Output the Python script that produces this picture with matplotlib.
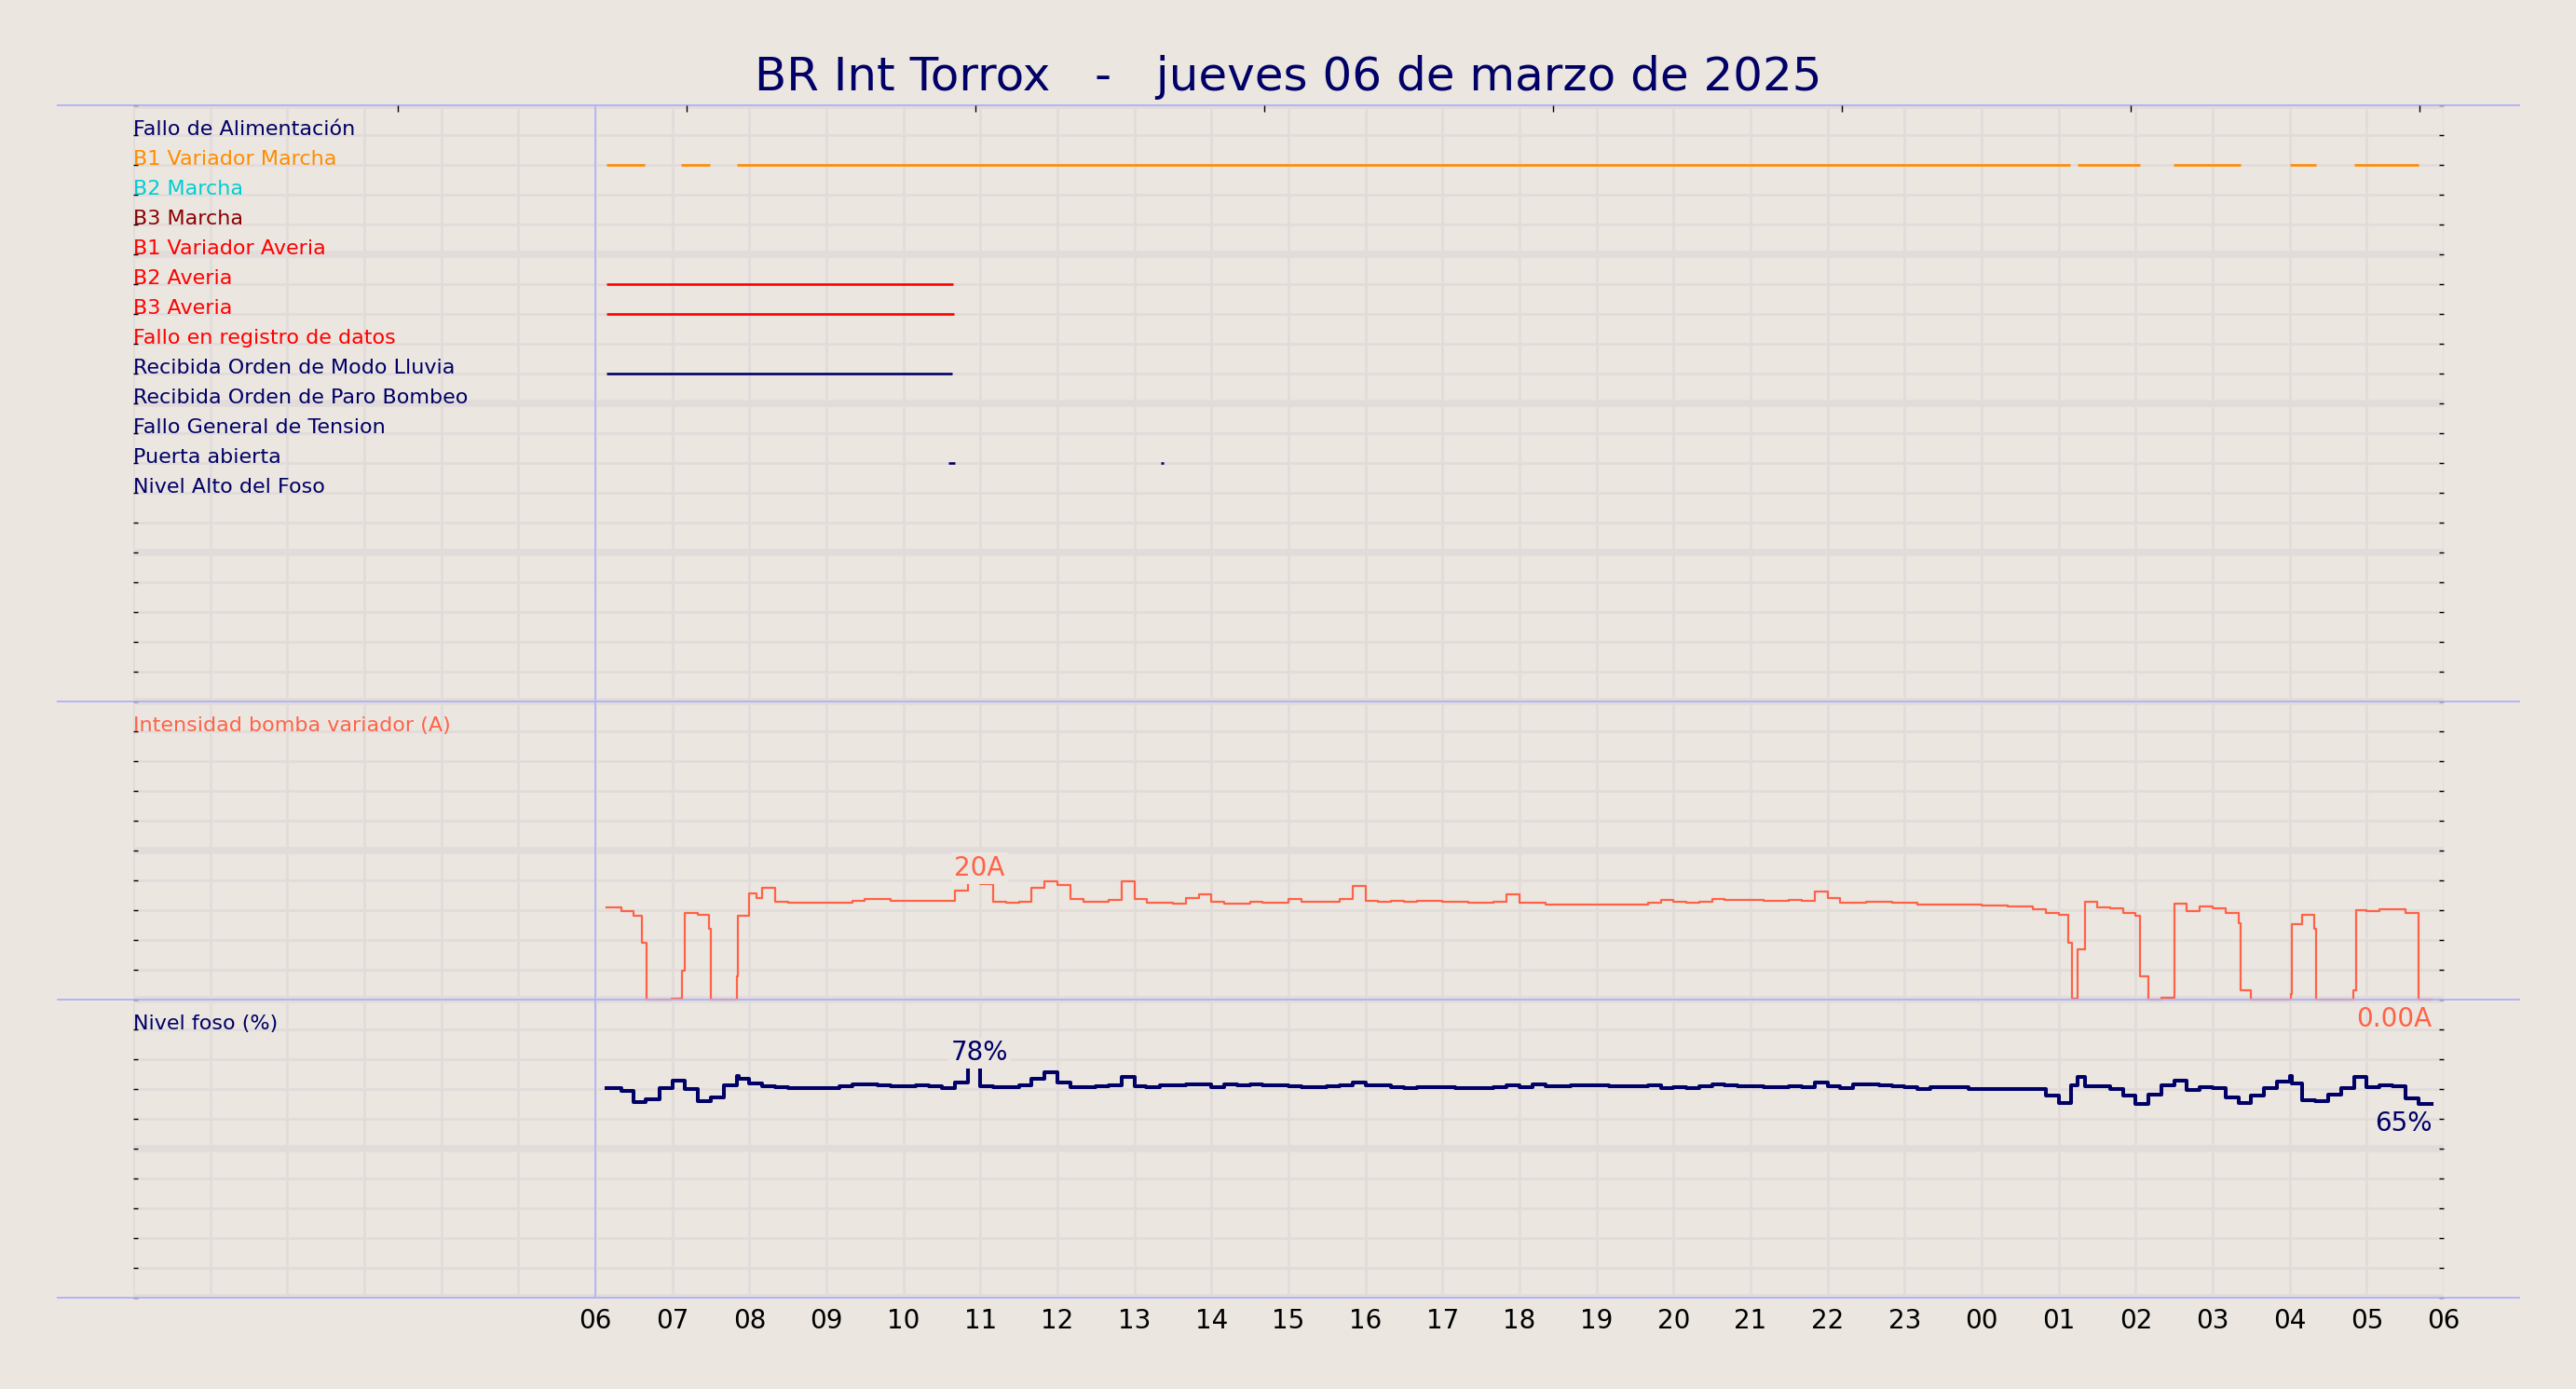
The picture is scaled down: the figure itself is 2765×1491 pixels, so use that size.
import matplotlib
matplotlib.use('Agg')
import matplotlib.pyplot as plt
from matplotlib.ticker import MultipleLocator, FixedLocator, NullFormatter
import numpy as np

# time axis: hours since 00:00 of 06/03/2025
title = 'BR Int Torrox   -   jueves 06 de marzo de 2025'
hour_ticks = list(range(6, 31))

# digital signals (name, colour, on-intervals)
signal_names = ['Fallo de Alimentación', 'B1 Variador Marcha', 'B2 Marcha', 'B3 Marcha',
                'B1 Variador Averia', 'B2 Averia', 'B3 Averia', 'Fallo en registro de datos',
                'Recibida Orden de Modo Lluvia', 'Recibida Orden de Paro Bombeo',
                'Fallo General de Tension', 'Puerta abierta', 'Nivel Alto del Foso']
signal_colors = ['#000066', 'darkorange', 'darkturquoise', '#8b0000',
                 'red', 'red', 'red', 'red',
                 '#000066', '#000066', '#000066', '#000066', '#000066']
fallo_alimentacion = []
b1_variador_marcha = [(6.145, 6.64), (7.11, 7.49), (7.84, 25.15), (25.24, 26.06),
                      (26.49, 27.36), (28.01, 28.34), (28.84, 29.67)]
b2_marcha = []
b3_marcha = []
b1_variador_averia = []
b2_averia = [(6.145, 10.65)]
b3_averia = [(6.145, 10.66)]
fallo_registro = []
modo_lluvia = [(6.145, 10.63)]
paro_bombeo = []
fallo_tension = []
puerta_abierta = [(10.58, 10.67), (13.345, 13.38)]
nivel_alto = []
signal_on = [fallo_alimentacion, b1_variador_marcha, b2_marcha, b3_marcha,
             b1_variador_averia, b2_averia, b3_averia, fallo_registro,
             modo_lluvia, paro_bombeo, fallo_tension, puerta_abierta, nivel_alto]

# Intensidad bomba variador (A)
current_t = [6.145, 6.333, 6.5, 6.609, 6.665, 6.988, 7.121, 7.165, 7.333, 7.472, 7.504,
             7.839, 7.855, 8.0, 8.089, 8.167, 8.333, 8.5, 9.0, 9.333, 9.5, 9.833,
             10.667, 10.843, 10.992, 11.167, 11.333, 11.5, 11.667, 11.833, 12.0, 12.167,
             12.333, 12.667, 12.833, 13.0, 13.167, 13.5, 13.667, 13.833, 14.0, 14.167,
             14.5, 14.667, 15.0, 15.167, 15.667, 15.833, 16.0, 16.167, 16.333, 16.5,
             16.667, 17.0, 17.333, 17.667, 17.833, 18.0, 18.333, 19.667, 19.833, 20.0,
             20.167, 20.333, 20.5, 20.667, 21.167, 21.5, 21.667, 21.833, 22.0, 22.167,
             22.5, 22.833, 23.167, 24.0, 24.333, 24.667, 24.833, 25.0, 25.121, 25.169,
             25.25, 25.339, 25.5, 25.667, 25.833, 26.0, 26.056, 26.167, 26.333, 26.5,
             26.667, 26.833, 27.0, 27.167, 27.333, 27.359, 27.5, 28.012, 28.032, 28.167,
             28.315, 28.343, 28.831, 28.859, 29.0, 29.167, 29.5, 29.673, 29.847]
current_a = [15.5, 14.9, 14.0, 9.6, 0.0, 0.2, 4.8, 14.5, 14.2, 11.9, 0.0,
             3.9, 14.0, 17.8, 17.1, 18.7, 16.4, 16.2, 16.3, 16.6, 16.8, 16.6,
             18.3, 20.0, 19.3, 16.4, 16.2, 16.4, 18.8, 19.9, 19.2, 16.8,
             16.4, 16.7, 19.9, 16.8, 16.25, 16.1, 17.0, 17.6, 16.4, 16.1,
             16.35, 16.25, 16.8, 16.4, 16.8, 19.1, 16.6, 16.35, 16.6, 16.35,
             16.5, 16.35, 16.2, 16.4, 17.7, 16.25, 16.0, 16.25, 16.7, 16.35,
             16.2, 16.4, 16.8, 16.7, 16.5, 16.7, 16.5, 18.2, 17.1, 16.25,
             16.4, 16.25, 15.9, 15.8, 15.6, 15.2, 14.6, 14.2, 9.5, 0.2,
             8.4, 16.35, 15.5, 15.3, 14.5, 14.0, 3.85, 0.0, 0.3, 16.1,
             14.8, 15.6, 15.3, 14.5, 12.8, 1.6, 0.0, 0.9, 12.7, 14.2,
             11.9, 0.0, 1.6, 15.0, 14.8, 15.1, 14.5, 0.0, 0.0]

# Nivel foso (%)
level_t = [6.145, 6.333, 6.5, 6.65, 6.833, 7.0, 7.167, 7.333, 7.5, 7.667, 7.833, 7.859,
           8.0, 8.167, 8.333, 8.5, 9.0, 9.167, 9.333, 9.667, 9.833, 10.167, 10.333, 10.5,
           10.667, 10.843, 10.992, 11.167, 11.5, 11.667, 11.833, 12.0, 12.167, 12.5,
           12.667, 12.833, 13.0, 13.15, 13.333, 13.667, 14.0, 14.167, 14.333, 14.5,
           14.667, 15.0, 15.167, 15.5, 15.667, 15.833, 16.0, 16.333, 16.5, 16.667,
           17.167, 17.667, 17.833, 18.0, 18.167, 18.333, 18.667, 19.167, 19.667, 19.833,
           20.0, 20.167, 20.333, 20.5, 20.667, 20.833, 21.167, 21.5, 21.667, 21.833,
           22.0, 22.167, 22.333, 22.667, 22.833, 23.0, 23.167, 23.333, 23.833, 24.833,
           25.0, 25.167, 25.25, 25.343, 25.667, 25.833, 26.0, 26.167, 26.333, 26.5,
           26.667, 26.833, 27.0, 27.167, 27.333, 27.5, 27.667, 27.833, 28.0, 28.024,
           28.167, 28.333, 28.5, 28.667, 28.833, 29.0, 29.167, 29.333, 29.5, 29.673, 29.847]
level_pct = [70.3, 69.3, 65.6, 66.6, 70.3, 72.9, 69.9, 66.0, 67.1, 71.4, 74.4, 73.4,
             71.9, 71.0, 70.5, 70.2, 70.4, 70.8, 71.5, 71.1, 70.8, 71.3, 70.8, 70.4,
             72.3, 78.0, 71.0, 70.6, 71.4, 73.4, 75.7, 72.1, 70.7, 70.9,
             71.25, 74.2, 71.0, 70.6, 71.1, 71.5, 70.6, 71.5, 71.1, 71.5,
             71.1, 70.9, 70.6, 70.9, 71.25, 72.2, 71.1, 70.6, 70.2, 70.6,
             70.2, 70.6, 71.1, 70.5, 71.5, 70.8, 71.1, 70.8, 71.1, 70.2,
             70.5, 70.2, 70.8, 71.5, 71.1, 70.8, 70.5, 70.8, 70.5, 72.3,
             70.8, 70.4, 71.5, 71.1, 70.8, 70.5, 70.1, 70.5, 69.9, 67.7,
             65.3, 71.4, 74.2, 71.0, 69.9, 67.9, 65.0, 68.1, 71.25, 72.7,
             69.8, 70.6, 70.2, 67.3, 65.4, 67.9, 70.4, 72.6, 74.4, 72.0,
             66.25, 65.8, 68.1, 70.2, 74.2, 70.6, 71.1, 70.8, 66.9, 65.0, 65.0]

BG = '#ebe6e0'
GRID = '#e1dcda'
BLUE = '#b0b0f8'
NAVY = '#000066'
TOMATO = '#ff6347'

W, H = 2765, 1491
fig = plt.figure(figsize=(W / 100, H / 100), dpi=100, facecolor=BG)
ax = fig.add_axes([143 / W, 1 - 1393 / H, 2480 / W, 1280 / H])
ax.set_facecolor(BG)
ax.set_xlim(0, 30)
ax.set_ylim(0, 40)
for s in ax.spines.values():
    s.set_visible(False)

ax.xaxis.set_major_locator(FixedLocator(hour_ticks))
ax.xaxis.set_minor_locator(MultipleLocator(1))
ax.set_xticklabels(['%02d' % (h % 24) for h in hour_ticks], fontsize=20)
ax.tick_params(axis='x', which='both', length=0, pad=8)
ax.yaxis.set_major_locator(MultipleLocator(5))
ax.yaxis.set_minor_locator(MultipleLocator(1))
ax.yaxis.set_major_formatter(NullFormatter())
ax.tick_params(axis='y', which='both', direction='in', left=True, right=True,
               length=3.5, width=1, color='black')
ax.grid(which='major', axis='y', color=GRID, lw=5.5)
ax.grid(which='minor', axis='y', color=GRID, lw=2)
ax.grid(which='both', axis='x', color=GRID, lw=2)
ax.set_axisbelow(True)

# top ticks
top = ax.twiny()
top.set_xlim(-0.917, 7.083)
top.xaxis.set_major_locator(MultipleLocator(1))
top.tick_params(axis='x', direction='in', length=5, width=1, labeltop=False)
for s in top.spines.values():
    s.set_visible(False)

# separators
for yl in (0, 10, 20, 40):
    ax.axhline(yl, xmin=-0.0327, xmax=1.0327, color=BLUE, lw=1.3, clip_on=False, zorder=4)
ax.axvline(6, color=BLUE, lw=1.2, zorder=4)

# digital signals
for i, (name, color, spans) in enumerate(zip(signal_names, signal_colors, signal_on)):
    row = 39 - i
    ax.text(0, row, name, color=color, fontsize=16, va='baseline', ha='left', zorder=5)
    if spans:
        spans = np.array(spans)
        ax.hlines([row] * len(spans), spans[:, 0], spans[:, 1], colors=color, lw=1.9,
                  zorder=3)

# analog signals
cur = np.array(current_a)
lev = np.array(level_pct)
ax.text(0, 19, 'Intensidad bomba variador (A)', color=TOMATO, fontsize=16, va='baseline')
ax.text(0, 9, 'Nivel foso (%)', color=NAVY, fontsize=16, va='baseline')
ax.plot(current_t, 10 + cur / 5, drawstyle='steps-post', color=TOMATO, lw=1.6, zorder=3)
ax.plot(level_t, lev / 10, drawstyle='steps-post', color=NAVY, lw=2.9, zorder=3)

box = dict(boxstyle='square,pad=0.1', fc=BG, ec='none')
im = int(np.argmax(cur))
ax.annotate('%.0fA' % cur[im], (current_t[im + 1], 10 + cur[im] / 5), xytext=(0, 3.6),
            textcoords='offset points', ha='center', va='baseline', fontsize=20,
            color=TOMATO, bbox=box, zorder=5)
ax.annotate('%.2fA' % cur[-1], (current_t[-1], 10 + cur[-1] / 5), xytext=(0, -5),
            textcoords='offset points', ha='right', va='top', fontsize=20, color=TOMATO,
            zorder=5)
il = int(np.argmax(lev))
ax.annotate('%.0f%%' % lev[il], (level_t[il + 1], lev[il] / 10), xytext=(0, 3.6),
            textcoords='offset points', ha='center', va='baseline', fontsize=20,
            color=NAVY, bbox=box, zorder=5)
ax.annotate('%.0f%%' % lev[-1], (level_t[-1], lev[-1] / 10), xytext=(0, -5),
            textcoords='offset points', ha='right', va='top', fontsize=20, color=NAVY,
            zorder=5)

fig.text(0.5, 1 - 96.7 / H, title, ha='center', va='baseline', fontsize=36, color=NAVY)

fig.savefig('out.png', dpi=100, facecolor=BG)
